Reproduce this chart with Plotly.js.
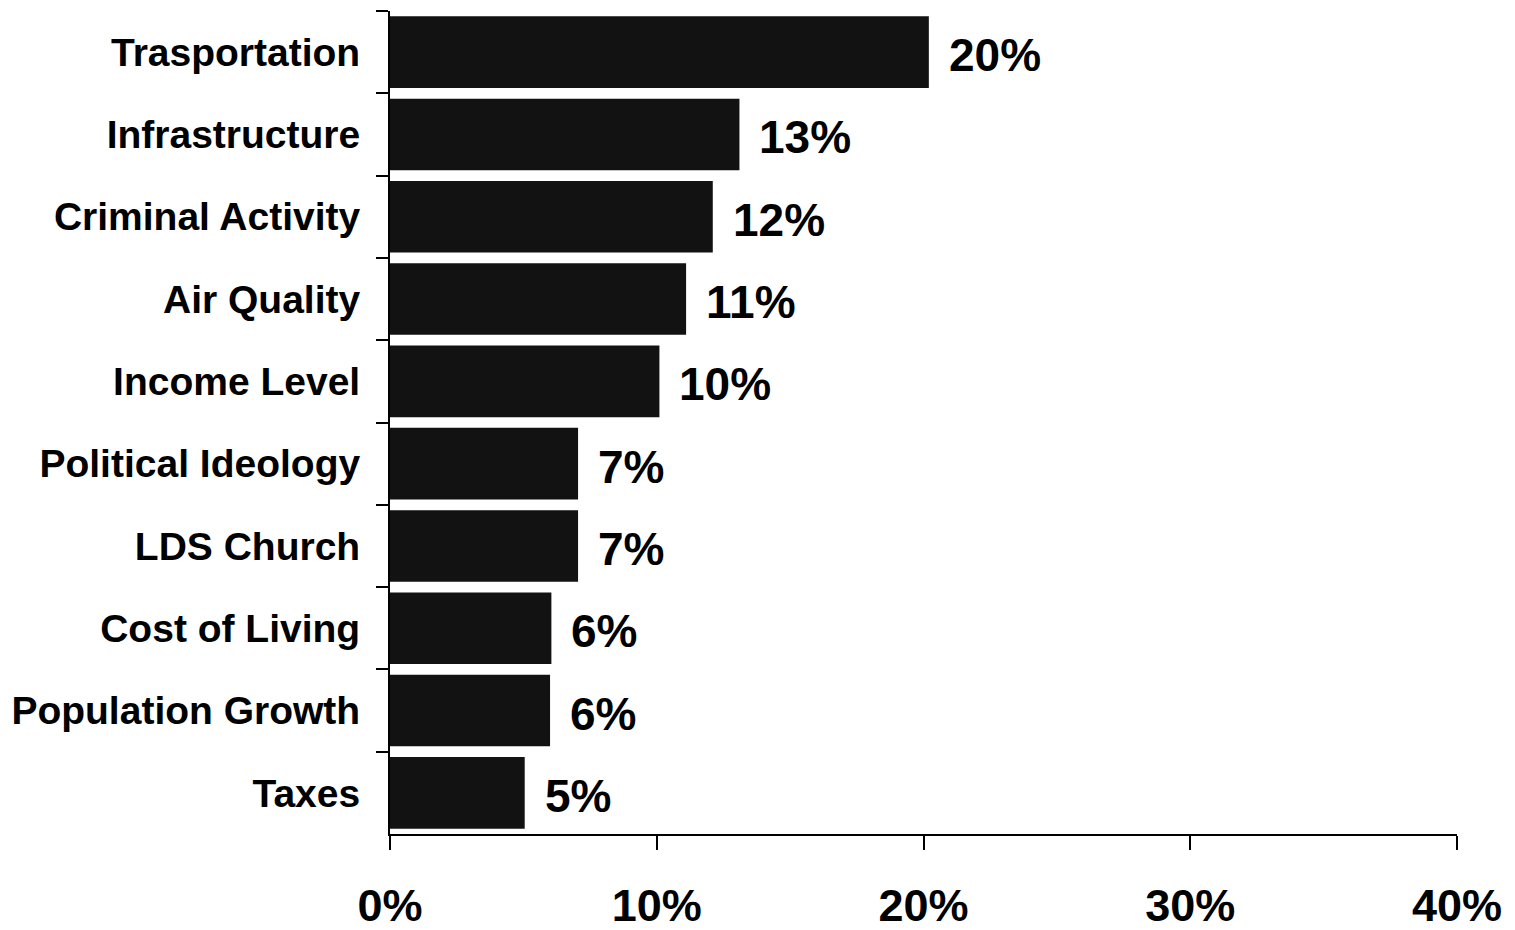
<!DOCTYPE html>
<html>
<head>
<meta charset="utf-8">
<script src="https://cdn.plot.ly/plotly-3.0.1.min.js"></script>
<style>
html,body{margin:0;padding:0;background:#fff;}
#chart{width:1515px;height:930px;}
</style>
</head>
<body>
<div id="chart"></div>
<script>
// Data
const categories = ["Trasportation", "Infrastructure", "Criminal Activity", "Air Quality", "Income Level",
  "Political Ideology", "LDS Church", "Cost of Living", "Population Growth", "Taxes"];
const values = [20.2, 13.1, 12.1, 11.1, 10.1, 7.05, 7.05, 6.05, 6.0, 5.05];
const valueLabels = ["20%", "13%", "12%", "11%", "10%", "7%", "7%", "6%", "6%", "5%"];
const xTickVals = [0, 10, 20, 30, 40];
const xTickText = ["0%", "10%", "20%", "30%", "40%"];

const FONT = "Liberation Sans, Arial, Helvetica, sans-serif";

const trace = {
  type: "bar",
  orientation: "h",
  x: values,
  y: categories,
  marker: {color: "#121212", line: {width: 0}},
  hoverinfo: "none"
};

const annotations = categories.map((c, i) => ({
  x: values[i],
  y: c,
  xref: "x",
  yref: "y",
  text: "<b>" + valueLabels[i] + "</b>",
  showarrow: false,
  xanchor: "left",
  yanchor: "middle",
  xshift: 18,
  yshift: -3,
  font: {family: FONT, size: 46, color: "#000"}
}));

const layout = {
  width: 1515,
  height: 930,
  margin: {l: 390, r: 58, t: 11, b: 96},
  paper_bgcolor: "#fff",
  plot_bgcolor: "#fff",
  showlegend: false,
  bargap: 0.13,
  font: {family: FONT, color: "#000"},
  xaxis: {
    range: [0, 40],
    tickvals: xTickVals,
    ticktext: xTickText,
    showgrid: false,
    zeroline: false,
    showline: true,
    linecolor: "#000",
    linewidth: 2,
    ticks: "outside",
    ticklen: 14,
    tickwidth: 2,
    tickcolor: "#000",
    ticklabelstandoff: 17,
    tickfont: {family: FONT, size: 45, color: "#000", weight: "bold"},
    fixedrange: true
  },
  yaxis: {
    type: "category",
    categoryorder: "array",
    categoryarray: categories,
    autorange: "reversed",
    tickson: "boundaries",
    showgrid: false,
    zeroline: false,
    showline: true,
    linecolor: "#000",
    linewidth: 2,
    ticks: "outside",
    ticklen: 12,
    tickwidth: 2,
    tickcolor: "#000",
    ticklabelstandoff: 20,
    tickfont: {family: FONT, size: 39, color: "#000", weight: "bold"},
    fixedrange: true
  },
  annotations: annotations
};

Plotly.newPlot("chart", [trace], layout, {displayModeBar: false, staticPlot: true});
</script>
</body>
</html>
